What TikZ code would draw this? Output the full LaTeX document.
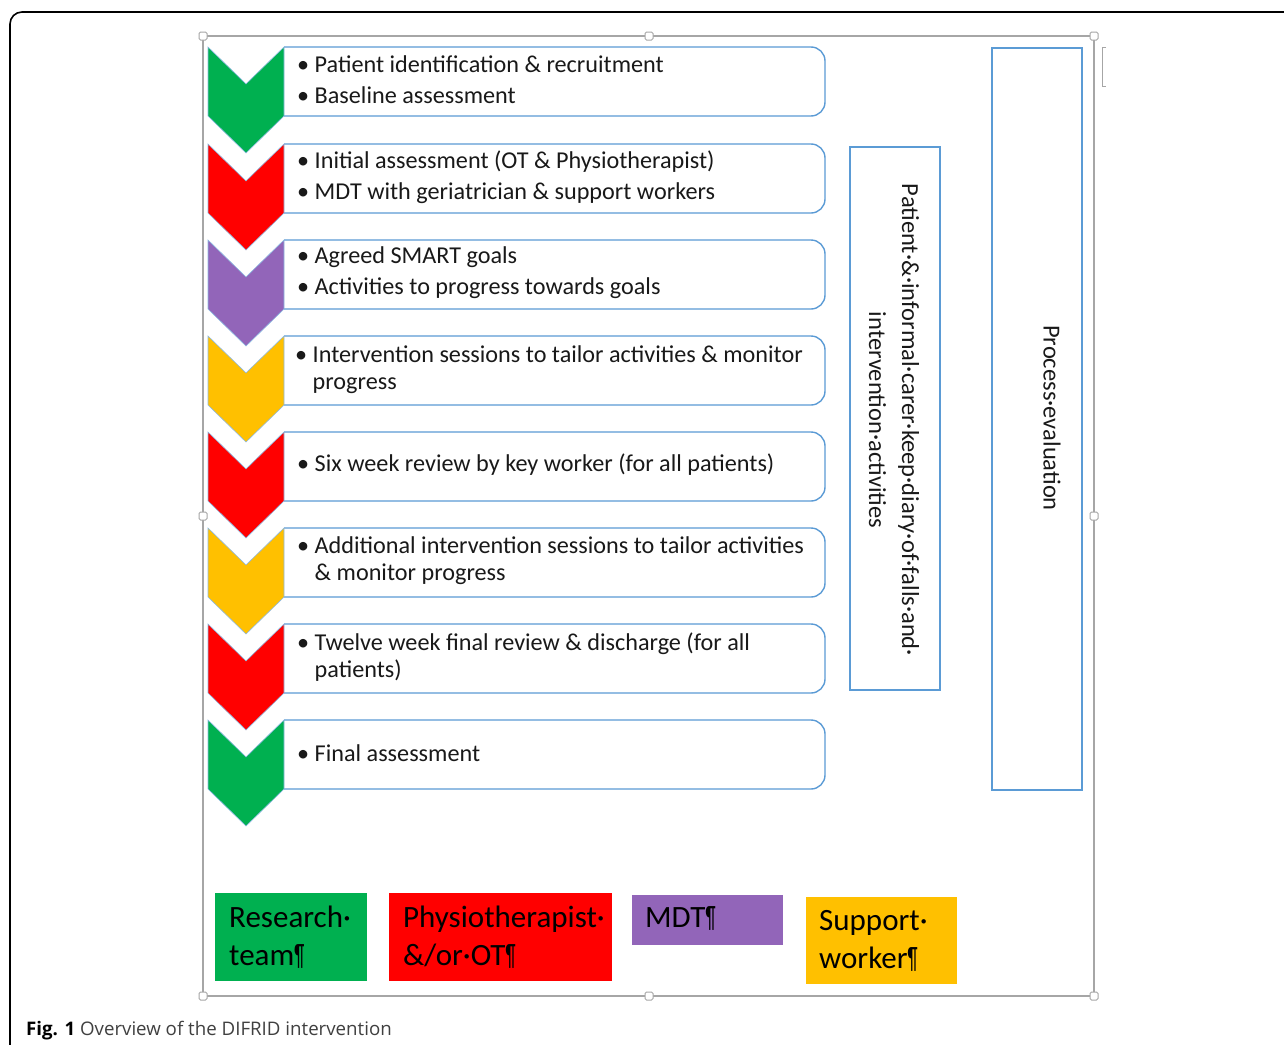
\documentclass[tikz,border=0pt]{standalone}
\usepackage{fontspec}
\usepackage{graphicx}
\setmainfont{Carlito}
\newfontfamily\capfont{Open Sans}

\definecolor{resgreen}{HTML}{00B050}
\definecolor{physred}{HTML}{FF0000}
\definecolor{mdtpurple}{HTML}{9265B9}
\definecolor{supyellow}{HTML}{FFC000}
\definecolor{boxblue}{HTML}{5B9BD5}
\definecolor{handlegray}{HTML}{A6A6A6}

\def\chevW{38}
\def\chevD{37}
\def\boxH{69}
\newcommand{\parmark}{\scalebox{0.55}[1]{¶}}

\begin{document}
\begin{tikzpicture}[x=1pt, y=-1pt,
    stepbox/.style={draw=boxblue, line width=1.4pt, fill=white, rounded corners=14pt},
    steptext/.style={anchor=west, align=left, inner sep=0pt, text=black!90,
      font=\fontsize{24.2}{27}\selectfont},
    keybox/.style={anchor=north west, inner sep=0pt},
    keytext/.style={anchor=west, align=left, inner sep=0pt, text=black,
      font=\fontsize{31}{38}\selectfont},
    sidebox/.style={draw=boxblue, line width=1.4pt},
    sidetext/.style={rotate=-90, align=center, inner sep=0pt, text=black!90,
      font=\fontsize{24.5}{33}\selectfont},
    handle/.style={draw=handlegray, fill=white, line width=1pt, rounded corners=1.5pt,
      minimum size=8pt, inner sep=0pt}]
  \useasboundingbox (0,0) rectangle (1284,1044);
  \fill[white] (0,0) rectangle (1284,1044);
  \draw[line width=1.6pt, rounded corners=12pt] (10,1070) -- (10,12) -- (1310,12);

  \draw[handlegray, line width=1.5pt] (203,36) rectangle (1094,996);
  \draw[handlegray, line width=1pt] (1106,47) -- (1102,47) -- (1102,86) -- (1106,86);

  \foreach \y in {47,144,240,336,432,528,624,720} {
      \draw[stepbox] (284,\y) -- (825,\y) -- (825,{\y+\boxH}) -- (284,{\y+\boxH});
  }
  \foreach \y/\c in {47/resgreen,144/physred,240/mdtpurple,336/supyellow,
                     432/physred,528/supyellow,624/physred,720/resgreen} {
      \filldraw[fill=\c, draw=boxblue!70, line width=0.6pt]
        (208,\y) -- ++(\chevW,\chevD) -- ++(\chevW,-\chevD) -- ++(0,\boxH)
        -- ++(-\chevW,\chevD) -- ++(-\chevW,-\chevD) -- cycle;
  }

  \node[steptext] (s1) at (297,80) {\textbullet\ Patient identification \& recruitment\\[4pt]\textbullet\ Baseline assessment};
  \node[steptext] (s2) at (297,177) {\textbullet\ Initial assessment (OT \& Physiotherapist)\\[4pt]\textbullet\ MDT with geriatrician \& support workers};
  \node[steptext] (s3) at (297,273) {\textbullet\ Agreed SMART goals\\[4pt]\textbullet\ Activities to progress towards goals};
  \node[steptext] (s4) at (295,370) {\textbullet\ Intervention sessions to tailor activities \& monitor\\\hphantom{\textbullet\ }progress};
  \node[steptext] (s5) at (297,465) {\textbullet\ Six week review by key worker (for all patients)};
  \node[steptext] (s6) at (297,561) {\textbullet\ Additional intervention sessions to tailor activities\\\hphantom{\textbullet\ }\& monitor progress};
  \node[steptext] (s7) at (297,657) {\textbullet\ Twelve week final review \& discharge (for all\\\hphantom{\textbullet\ }patients)};
  \node[steptext] (s8) at (297,753) {\textbullet\ Final assessment};

  \draw[sidebox] (850,147) rectangle (940,690);
  \node[sidetext] (diary) at (894,420) {Patient·\&·informal·carer·keep·diary·of·falls·and·\\intervention·activities};
  \draw[sidebox] (992,48) rectangle (1082,790);
  \node[sidetext] (process) at (1052,418) {Process·evaluation};

  \node[keybox, fill=resgreen, minimum width=152pt, minimum height=88pt] (kresearch) at (215,893) {};
  \node[keytext] at ([xshift=14pt]kresearch.west) {Research·\\team\parmark};
  \node[keybox, fill=physred, minimum width=223pt, minimum height=88pt] (kphysio) at (389,893) {};
  \node[keytext] at ([xshift=14pt]kphysio.west) {Physiotherapist·\\\&/or·OT\parmark};
  \node[keybox, fill=mdtpurple, minimum width=151pt, minimum height=50pt] (kmdt) at (632,895) {};
  \node[keytext] at ([xshift=13pt,yshift=2pt]kmdt.west) {MDT\parmark};
  \node[keybox, fill=supyellow, minimum width=151pt, minimum height=87pt] (ksupport) at (806,897) {};
  \node[keytext] at ([xshift=13pt]ksupport.west) {Support·\\worker\parmark};

  \foreach \hx/\hy [count=\i] in {203/36,649/36,1094/36,203/516,1094/516,203/996,649/996,1094/996} {
      \node[handle] (h\i) at (\hx,\hy) {};
  }

  \node[anchor=base west, inner sep=0pt, text=black!75, font=\capfont\fontsize{18.7}{20}\selectfont]
    (caption) at (26,1035) {{\bfseries\color{black}Fig. 1} Overview of the DIFRID intervention};
\end{tikzpicture}
\end{document}
